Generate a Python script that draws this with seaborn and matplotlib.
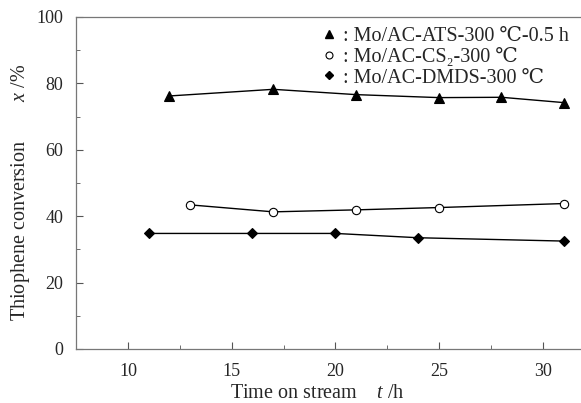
import matplotlib
matplotlib.use("Agg")
import matplotlib.pyplot as plt
from matplotlib.lines import Line2D
from matplotlib.ticker import MultipleLocator
import pandas as pd
import seaborn as sns

# ------------------------------------------
# Data
# ------------------------------------------
ats_time = [12, 17, 21, 25, 28, 31]
ats_conv = [76.2, 78.2, 76.6, 75.7, 75.8, 74.2]

cs2_time = [13, 17, 21, 25, 31]
cs2_conv = [43.4, 41.3, 41.9, 42.6, 43.8]

dmds_time = [11, 16, 20, 24, 31]
dmds_conv = [34.8, 34.8, 34.8, 33.5, 32.5]

labels = [": Mo/AC-ATS-300 \u2103-0.5 h",
          ": Mo/AC-CS\u2082-300 \u2103",
          ": Mo/AC-DMDS-300 \u2103"]

df = pd.concat([
    pd.DataFrame({"t": ats_time, "x": ats_conv, "sample": "ATS"}),
    pd.DataFrame({"t": cs2_time, "x": cs2_conv, "sample": "CS2"}),
    pd.DataFrame({"t": dmds_time, "x": dmds_conv, "sample": "DMDS"}),
])

# ------------------------------------------
# Style
# ------------------------------------------
sns.set_style("ticks")
plt.rcParams["font.family"] = ["Liberation Serif", "DejaVu Serif", "Noto Sans CJK SC"]
plt.rcParams["mathtext.fontset"] = "custom"
plt.rcParams["mathtext.rm"] = "Liberation Serif"
plt.rcParams["mathtext.it"] = "Liberation Serif:italic"

fig = plt.figure(figsize=(5.81, 4.03), dpi=100)
ax = fig.add_axes([0.131, 0.134, 0.875, 0.824])

styles = {
    "ATS": dict(marker="^", ms=7, mfc="black", mec="black"),
    "CS2": dict(marker="o", ms=6, mfc="white", mec="black"),
    "DMDS": dict(marker="D", ms=5.5, mfc="black", mec="black"),
}

for name, sub in df.groupby("sample"):
    st = styles[name]
    sns.lineplot(data=sub, x="t", y="x", ax=ax, color="black", lw=1,
                 marker=st["marker"], markersize=st["ms"],
                 markerfacecolor=st["mfc"], markeredgecolor=st["mec"],
                 markeredgewidth=0.8, estimator=None, legend=False)

ax.set_xlim(7.5, 32)
ax.set_ylim(0, 100)
ax.xaxis.set_major_locator(MultipleLocator(5))
ax.xaxis.set_minor_locator(MultipleLocator(2.5))
ax.yaxis.set_major_locator(MultipleLocator(20))
ax.yaxis.set_minor_locator(MultipleLocator(10))
ax.tick_params(which="both", direction="in", labelsize=13, color="#555555")
ax.tick_params(which="major", length=5)
ax.tick_params(which="minor", length=3)
ax.tick_params(axis="x", pad=10)
ax.tick_params(axis="y", pad=9)

for side in ["left", "bottom", "top"]:
    ax.spines[side].set_color("#777777")
    ax.spines[side].set_linewidth(0.9)
ax.spines["right"].set_visible(False)

ax.set_xlabel("Time on stream    $t$ /h", fontsize=14.5)
ax.set_ylabel("Thiophene conversion        $x$ /%", fontsize=14.5)
ax.xaxis.set_label_coords(0.475, -0.105)
ax.yaxis.set_label_coords(-0.087, 0.471)

handles = [
    Line2D([], [], ls="none", marker="^", ms=6, color="black"),
    Line2D([], [], ls="none", marker="o", ms=5, mfc="white", mec="black", mew=0.8),
    Line2D([], [], ls="none", marker="D", ms=4.5, color="black"),
]
ax.legend(handles, labels, loc="upper right", bbox_to_anchor=(0.99, 1.0),
          frameon=False, fontsize=14.5, handlelength=0.8, handletextpad=0.3,
          labelspacing=0.08, borderaxespad=0.1)

plt.savefig("out.png", dpi=100)
